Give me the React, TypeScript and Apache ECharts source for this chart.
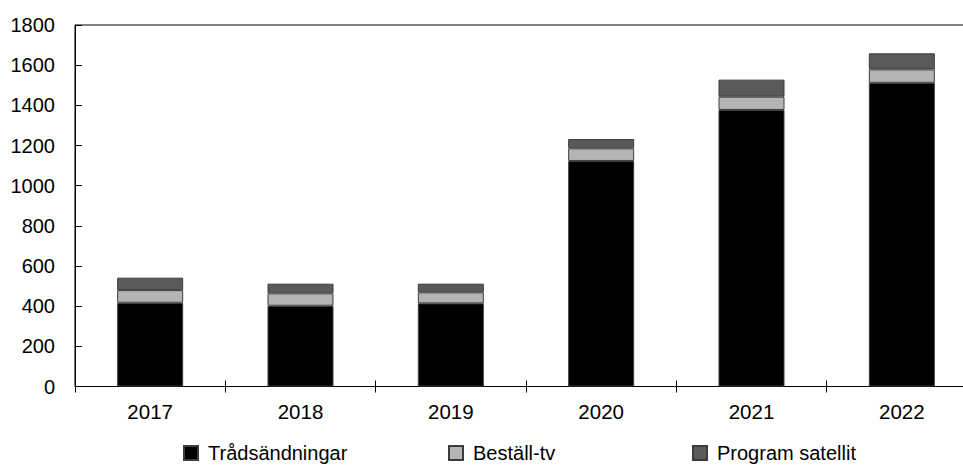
import React, { useEffect, useRef } from "react";
import * as echarts from "echarts";

const categories = ["2017", "2018", "2019", "2020", "2021", "2022"];
const tradsandningar = [417, 402, 414, 1123, 1377, 1512];
const bestallTv = [63, 62, 55, 63, 66, 67];
const programSatellit = [62, 48, 43, 46, 85, 80];
const seriesNames = ["Trådsändningar", "Beställ-tv", "Program satellit"];
const seriesColors = ["#000000", "#b4b4b4", "#5a5a5a"];

const FONT = "'Liberation Sans', Arial, sans-serif";

export default function App() {
  const ref = useRef<HTMLDivElement>(null);
  useEffect(() => {
    if (!ref.current) return;
    const chart = echarts.init(ref.current, undefined, { renderer: "svg" });
    const values = [tradsandningar, bestallTv, programSatellit];
    const legendLefts = [183, 448, 692];
    chart.setOption({
      animation: false,
      backgroundColor: "#ffffff",
      textStyle: { fontFamily: FONT, color: "#000" },
      grid: {
        left: 75,
        top: 25,
        right: 13,
        bottom: 86.5,
        show: true,
        borderColor: "#000",
        borderWidth: 1,
        containLabel: false,
      },
      legend: seriesNames.map((n, i) => ({
        data: [n],
        left: legendLefts[i],
        top: 443,
        padding: 0,
        itemWidth: 14,
        itemHeight: 14,
        icon: "rect",
        textStyle: {
          fontFamily: FONT,
          fontSize: 20,
          color: "#000",
          padding: [0, 0, 0, 5],
        },
        selectedMode: false,
      })),
      xAxis: [
        {
          type: "category",
          data: categories,
          boundaryGap: true,
          axisLine: { show: true, lineStyle: { color: "#000", width: 1 } },
          axisTick: { show: true, inside: false, length: 6, lineStyle: { color: "#000" } },
          axisLabel: { fontFamily: FONT, fontSize: 20.5, color: "#000", margin: 14 },
          splitLine: { show: false },
        },
        {
          type: "category",
          data: categories,
          position: "bottom",
          boundaryGap: true,
          axisLine: { show: false },
          axisTick: { show: true, inside: true, length: 6, lineStyle: { color: "#000" } },
          axisLabel: { show: false },
          splitLine: { show: false },
        },
      ],
      yAxis: {
        type: "value",
        min: 0,
        max: 1800,
        interval: 200,
        axisLine: { show: true, lineStyle: { color: "#000", width: 1 } },
        axisTick: { show: true, inside: true, length: 7, lineStyle: { color: "#000" } },
        axisLabel: {
          fontFamily: FONT,
          fontSize: 20,
          color: "#000",
          margin: 20,
          formatter: (v: number) => String(v),
        },
        splitLine: { show: false },
      },
      series: seriesNames.map((n, i) => ({
        name: n,
        type: "bar",
        stack: "total",
        data: values[i],
        barWidth: 66,
        itemStyle: {
          color: seriesColors[i],
          borderColor: "#3c3c3c",
          borderWidth: 1,
        },
      })),
    });
    return () => chart.dispose();
  }, []);
  return (
    <div
      style={{
        position: "absolute",
        left: 0,
        top: 0,
        width: 963,
        height: 473,
        overflow: "hidden",
      }}
    >
      <div ref={ref} style={{ width: 990, height: 473 }} />
    </div>
  );
}
